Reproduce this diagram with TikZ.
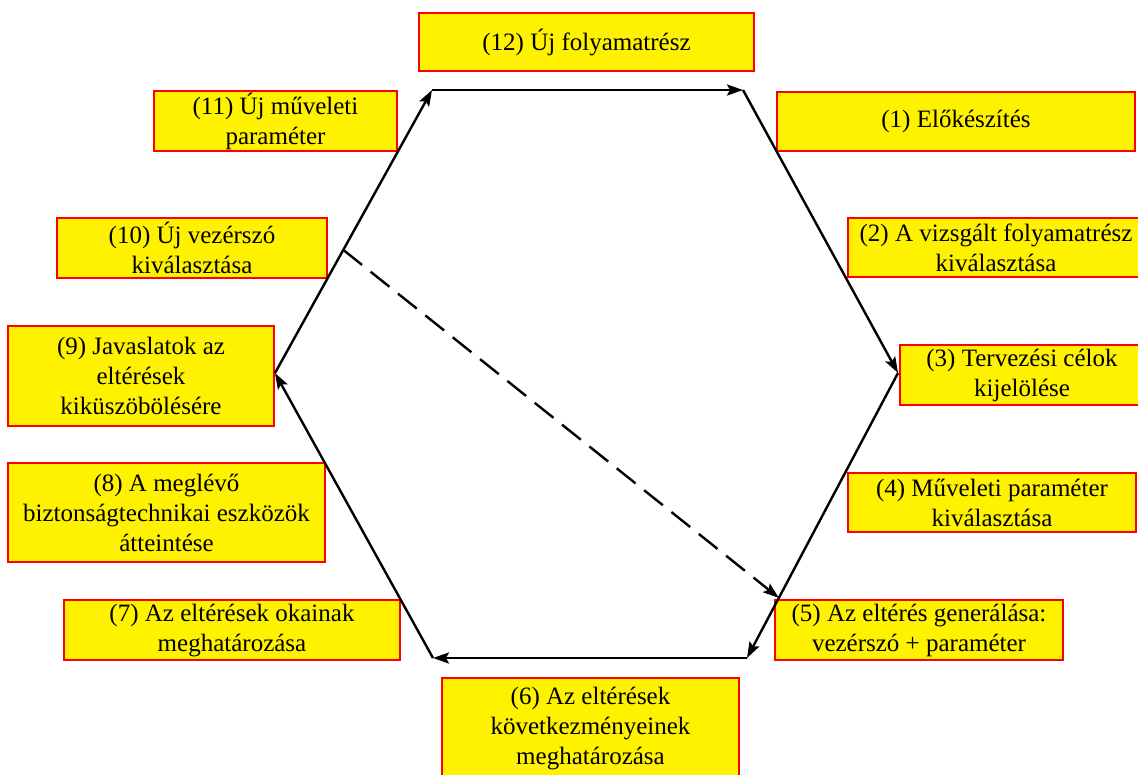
\documentclass[tikz,border=0pt]{standalone}
\usepackage{fontspec}
\setmainfont{Liberation Serif}
\usetikzlibrary{arrows.meta}

\tikzset{
  stepbox/.style={draw=red, line width=2pt, fill=yellow, rectangle,
    inner sep=0pt, align=center, font=\fontsize{25}{30}\selectfont},
  flow/.style={draw=black, line width=2.4pt,
    -{Stealth[length=16pt, width=11pt, inset=3pt]}},
  jump/.style={flow, dash pattern=on 24pt off 11pt}
}

\begin{document}
\begin{tikzpicture}[x=1pt, y=-1pt]
\useasboundingbox (0,0) rectangle (1138,774);

% process step boxes
\node[stepbox, minimum width=335pt, minimum height=58pt] (s12) at (586.5,42) {(12) Új folyamatrész};
\node[stepbox, minimum width=243pt, minimum height=60pt] (s11) at (275.5,121) {(11) Új műveleti\\paraméter};
\node[stepbox, minimum width=358pt, minimum height=59pt] (s1) at (956,121.5) {(1) Előkészítés};
\node[stepbox, minimum width=296pt, minimum height=59pt] (s2) at (996,247.5) {(2) A vizsgált folyamatrész\\kiválasztása};
\node[stepbox, minimum width=270pt, minimum height=60pt] (s10) at (192,248) {(10) Új vezérszó\\kiválasztása};
\node[stepbox, minimum width=266pt, minimum height=100pt] (s9) at (141,376) {(9) Javaslatok az\\eltérések\\kiküszöbölésére};
\node[stepbox, minimum width=317pt, minimum height=99pt] (s8) at (166.5,512.5) {(8) A meglévő\\biztonságtechnikai eszközök\\átteintése};
\node[stepbox, minimum width=244pt, minimum height=60pt] (s3) at (1022,375) {(3) Tervezési célok\\kijelölése};
\node[stepbox, minimum width=288pt, minimum height=59pt] (s4) at (992,502.5) {(4) Műveleti paraméter\\kiválasztása};
\node[stepbox, minimum width=288pt, minimum height=60pt] (s5) at (919,630) {(5) Az eltérés generálása:\\vezérszó + paraméter};
\node[stepbox, minimum width=336pt, minimum height=60pt] (s7) at (232,630) {(7) Az eltérések okainak\\meghatározása};
\node[stepbox, minimum width=297pt, minimum height=100pt] (s6) at (590.5,728) {(6) Az eltérések\\következményeinek\\meghatározása};

% corners of the cycle
\coordinate (TL) at (432,90);
\coordinate (TR) at (743,90);
\coordinate (R)  at (898,373);
\coordinate (BR) at (747,658);
\coordinate (BL) at (433,658);
\coordinate (L)  at (275,373);

% cycle edges
\draw[flow] (TL) -- (TR);
\draw[flow] (TR) -- (R);
\draw[flow] (R) -- (BR);
\draw[flow] (BR) -- (BL);
\draw[flow] (BL) -- (L);
\draw[flow] (L) -- (TL);

% shortcut from step 10 back to step 5
\path (L) -- (TL) coordinate[pos=0.435] (d1);
\path (R) -- (BR) coordinate[pos=0.789] (d2);
\draw[jump] (d1) -- (d2);
\end{tikzpicture}
\end{document}
